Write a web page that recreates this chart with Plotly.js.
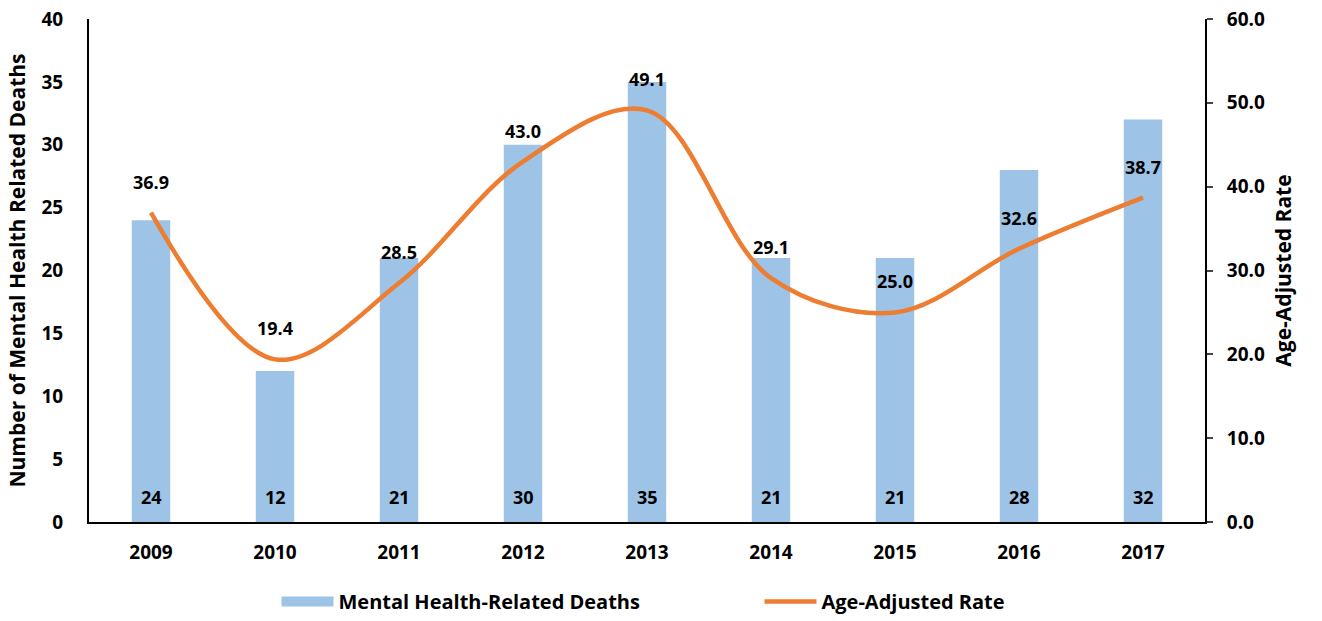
<!DOCTYPE html>
<html>
<head>
<meta charset="utf-8">
<script src="https://cdn.plot.ly/plotly-3.0.1.min.js"></script>
<style>html,body{margin:0;padding:0;background:#fff;}#chart{width:1322px;height:621px;}</style>
</head>
<body>
<div id="chart"></div>
<script>
const years = ['2009','2010','2011','2012','2013','2014','2015','2016','2017'];
const deaths = [24, 12, 21, 30, 35, 21, 21, 28, 32];
const rates = [36.9, 19.4, 28.5, 43.0, 49.1, 29.1, 25.0, 32.6, 38.7];

const FONT = '"Open Sans", Lato, sans-serif';
const BLUE = '#9DC3E6';
const ORANGE = '#ED7D31';

const bars = {
  type: 'bar', x: years, y: deaths, name: 'Mental Health-Related Deaths',
  marker: {color: BLUE}, showlegend: false, hoverinfo: 'none'
};
const barLegend = {
  type: 'scatter', mode: 'lines', x: [null], y: [null],
  name: 'Mental Health-Related Deaths',
  line: {color: BLUE, width: 15}
};
const line = {
  type: 'scatter', mode: 'lines', x: years, y: rates, yaxis: 'y2',
  name: 'Age-Adjusted Rate',
  line: {color: ORANGE, width: 4.5, shape: 'spline', smoothing: 1.0}
};
const rateNotes = years.map((yr, i) => ({
  x: i, y: rates[i], yref: 'y2', xref: 'x', text: rates[i].toFixed(1),
  showarrow: false, yshift: 31, yanchor: 'middle',
  font: {family: FONT, size: 18, color: '#000', weight: 'bold'}
}));
const barNotes = years.map((yr, i) => ({
  x: i, y: 0, yref: 'y', xref: 'x', text: String(deaths[i]),
  showarrow: false, yshift: 25, yanchor: 'middle',
  font: {family: FONT, size: 18, color: '#000', weight: 'bold'}
}));

const layout = {
  width: 1322, height: 621,
  margin: {l: 89, r: 117, t: 19, b: 99},
  paper_bgcolor: '#fff', plot_bgcolor: '#fff',
  font: {family: FONT, color: '#000', weight: 'bold'},
  bargap: 0.69,
  showlegend: true,
  legend: {orientation: 'h', x: 0.168, xanchor: 'left', xref: 'paper',
    yref: 'container', y: -0.02, yanchor: 'bottom',
    font: {family: FONT, size: 20, weight: 'bold'}, traceorder: 'normal',
    itemwidth: 52,
    entrywidth: 416, entrywidthmode: 'pixels'},
  xaxis: {
    type: 'category', range: [-0.5, 8.5], showline: true, linecolor: '#000', linewidth: 2,
    ticks: '', showgrid: false, zeroline: false, ticklabelstandoff: 12,
    tickfont: {family: FONT, size: 19, weight: 'bold'}
  },
  yaxis: {
    range: [0, 40], dtick: 5, showline: true, linecolor: '#000', linewidth: 2,
    ticks: '', showgrid: false, zeroline: false, ticklabelstandoff: 20,
    tickfont: {family: FONT, size: 19, weight: 'bold'},
    title: {text: 'Number of Mental Health Related Deaths', font: {family: FONT, size: 21, weight: 'bold'}, standoff: 10}
  },
  yaxis2: {
    range: [0, 60], dtick: 10, tickformat: '.1f', overlaying: 'y', side: 'right',
    showline: true, linecolor: '#000', linewidth: 2, ticks: 'outside', ticklen: 6, tickwidth: 2,
    ticklabelstandoff: 10,
    showgrid: false, zeroline: false,
    tickfont: {family: FONT, size: 19, weight: 'bold'},
    title: {text: 'Age-Adjusted Rate', font: {family: FONT, size: 21, weight: 'bold'}, standoff: 12}
  },
  annotations: rateNotes.concat(barNotes)
};

Plotly.newPlot('chart', [bars, barLegend, line], layout, {displayModeBar: false, staticPlot: true});
</script>
</body>
</html>
